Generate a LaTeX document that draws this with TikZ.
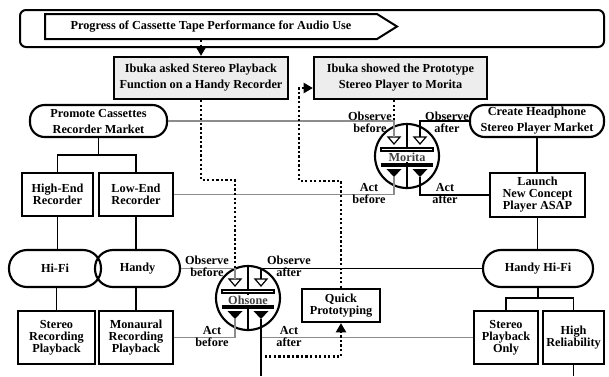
\documentclass[tikz,border=0pt]{standalone}
\usepackage{fontspec}
\setmainfont{Liberation Serif}
\usetikzlibrary{shapes.symbols,calc,arrows.meta}

\begin{document}
\begin{tikzpicture}[x=0.75pt,y=-0.75pt,
  font=\bfseries\fontsize{9.2}{9}\selectfont,
  wh/.style 2 args={minimum width=#1*0.75pt,minimum height=#2*0.75pt},
  box/.style={draw,line width=1.6pt,inner sep=0pt,align=center,fill=white},
  gbox/.style={box,fill=black!7,font=\bfseries\fontsize{9.2}{12}\selectfont},
  pill/.style={draw,line width=1.6pt,inner sep=0pt,align=center,rounded corners=13.5pt},
  pilltwo/.style={pill,rounded corners=11pt,font=\bfseries\fontsize{9.2}{12}\selectfont},
  tree/.style={line width=1.4pt},
  oldl/.style={line width=1.1pt,black!45},
  newl/.style={line width=1.2pt,black},
  flow/.style={line width=1.9pt,dash pattern=on 1.7pt off 1.7pt},
  tip/.style={-{Triangle[length=7pt,width=7.5pt]}},
  lbl/.style={inner sep=0pt,align=center},
  gauge/.style={circle,draw,line width=1.6pt,minimum size=48pt,inner sep=0pt,fill=white},
  gname/.style={fill=white,inner xsep=1pt,inner ysep=0.3pt,text=black!75}
]
\useasboundingbox (0,0) rectangle (609,376);

% title frame and banner
\node[draw,line width=1.5pt,rounded corners=4.5pt,wh={584}{37}] (frame) at (312,28.5) {};
\node[signal,signal to=east,signal pointer angle=64,draw,line width=1.5pt,
      inner sep=0pt,wh={352}{25}] (banner) at (211,26.5)
      {Progress of Cassette Tape Performance for Audio Use};

% Ibuka's actions
\node[gbox,wh={174}{42}] (ask) at (201,78) {Ibuka asked Stereo Playback\\Function on a Handy Recorder};
\node[gbox,wh={173}{42}] (show) at (400.5,78) {Ibuka showed the Prototype\\Stereo Player to Morita};

% existing market (left)
\node[pilltwo,wh={137}{32}] (promote) at (98.5,121) {Promote Cassettes\\Recorder Market};
\node[box,wh={71}{43}] (highend) at (57.5,194.5) {High-End\\Recorder};
\node[box,wh={74}{43}] (lowend) at (136,194.5) {Low-End\\Recorder};
\node[pill,wh={92}{37}] (hifi) at (55,268.5) {Hi-Fi};
\node[pill,wh={85}{37}] (handy) at (137.5,268.5) {Handy};
\node[box,wh={77}{53}] (stereorec) at (56.5,337.5) {Stereo\\Recording\\Playback};
\node[box,wh={74}{53}] (monaural) at (136,337.5) {Monaural\\Recording\\Playback};

% new market (right)
\node[pilltwo,wh={134}{32}] (create) at (537,121) {Create Headphone\\Stereo Player Market};
\node[box,wh={95}{44}] (launch) at (537.5,195) {Launch\\New Concept\\Player ASAP};
\node[pill,wh={110}{37}] (handyhifi) at (538,268.5) {Handy Hi-Fi};
\node[box,wh={64}{53}] (stereoonly) at (506,337.5) {Stereo\\Playback\\Only};
\node[box,wh={61}{53}] (highrel) at (573.5,337.5) {High\\Reliability};

\node[box,wh={78}{33}] (quick) at (341,305.5) {Quick\\Prototyping};

% decision gauges
\node[gauge] (morita) at (407,156) {};
\node[gauge] (ohsone) at (248,298) {};
\foreach \c in {morita,ohsone} {
  \draw[line width=1.3pt] (\c.north) -- (\c.south);
  \draw[line width=0.9pt,fill=white] ($(\c)+(-26,-8)$) rectangle ($(\c)+(26,-5)$);
  \fill ($(\c)+(-26,7)$) rectangle ($(\c)+(26,11)$);
  \foreach \s in {-1,1} {
    \draw[line width=0.9pt,fill=white] ($(\c)+(\s*13-6,-19)$) -- ($(\c)+(\s*13+6,-19)$)
       -- ($(\c)+(\s*13,-12)$) -- cycle;
    \fill ($(\c)+(\s*13-7.5,13)$) -- ($(\c)+(\s*13+7.5,13)$) -- ($(\c)+(\s*13,21)$) -- cycle;
  }
}
\node[gname] (morita-name) at ($(morita)+(0,1)$) {Morita};
\node[gname] (ohsone-name) at ($(ohsone)+(0,2)$) {Ohsone};

% gauge ports
\coordinate (mor-ol) at (394,121);
\coordinate (mor-or) at (420,121);
\coordinate (mor-il) at ($(morita)+(-13,-19)$);
\coordinate (mor-ir) at ($(morita)+(13,-19)$);
\coordinate (mor-tl) at ($(morita)+(-13,21)$);
\coordinate (mor-tr) at ($(morita)+(13,21)$);
\coordinate (ohs-il) at ($(ohsone)+(-13,-19)$);
\coordinate (ohs-ir) at ($(ohsone)+(13,-19)$);
\coordinate (ohs-tl) at ($(ohsone)+(-13,21)$);
\coordinate (ohs-tr) at ($(ohsone)+(13,21)$);
\coordinate (ohs-end) at (261,376);

% hierarchy lines
\coordinate (lsplit) at (98.5,155);
\coordinate (rsplit) at (538,298);
\draw[tree] (promote.south) -- (lsplit);
\draw[tree] (highend.north) |- (lsplit) -| (lowend.north);
\draw[tree] (highend.south) -- (highend.south |- hifi.north);
\draw[tree] (lowend.south) -- (lowend.south |- handy.north);
\draw[tree] (stereorec.north) -- (stereorec.north |- hifi.south);
\draw[tree] (monaural.north) -- (monaural.north |- handy.south);
\draw[tree] (create.south) -- (create.south |- launch.north);
\draw[tree] (launch.south) -- (launch.south |- handyhifi.north);
\draw[tree] (handyhifi.south) -- (rsplit);
\draw[tree] (stereoonly.north) |- (rsplit) -| (highrel.north);
\draw[tree] (highrel.south) -- (highrel.south |- ohs-end);

% observe / act links of Morita
\draw[oldl] (promote.east) -- (mor-ol) -- (mor-il);
\draw[newl] (create.west) -- (mor-or) -- (mor-ir);
\draw[oldl] (lowend.east) -| (mor-tl);
\draw[newl] (launch.west) -| (mor-tr);

% observe / act links of Ohsone
\draw[oldl] (handy.east) -| (ohs-il);
\draw[newl] (handyhifi.west) -| (ohs-ir);
\draw[oldl] (monaural.east) -| (ohs-tl);
\draw[oldl] (stereoonly.west) -- (stereoonly.west -| ohs-tr);
\draw[newl] (ohs-tr) -- (ohs-end);

% flow of events
\coordinate (bendA) at (201,180);
\coordinate (bendB) at (299,181);
\coordinate (bendC) at (299,88);
\draw[flow,tip] (ask.north |- banner.south) -- (ask.north);
\draw[flow] (ask.south) -- (bendA) -| ($(ohsone)+(-13,-30)$);
\draw[flow,tip] (quick.north) |- (bendB) -- (bendC) -- (show.west |- bendC);
\draw[flow] (show.south -| mor-ol) -- (mor-ol);
\draw[flow,tip] (stereoonly.west -| ohs-tr) -- ++(0,19) -| (quick.south);

% port labels
\node[lbl,anchor=east] (m-ob) at (392,122) {Observe\\before};
\node[lbl] (m-oa) at (447,122) {Observe\\after};
\node[lbl] (m-ab) at (369,194) {Act\\before};
\node[lbl] (m-aa) at (445,194) {Act\\after};
\node[lbl,anchor=east] (o-ob) at (229,266) {Observe\\before};
\node[lbl] (o-oa) at (289,266) {Observe\\after};
\node[lbl] (o-ab) at (212,336) {Act\\before};
\node[lbl] (o-aa) at (289,336) {Act\\after};
\end{tikzpicture}
\end{document}
